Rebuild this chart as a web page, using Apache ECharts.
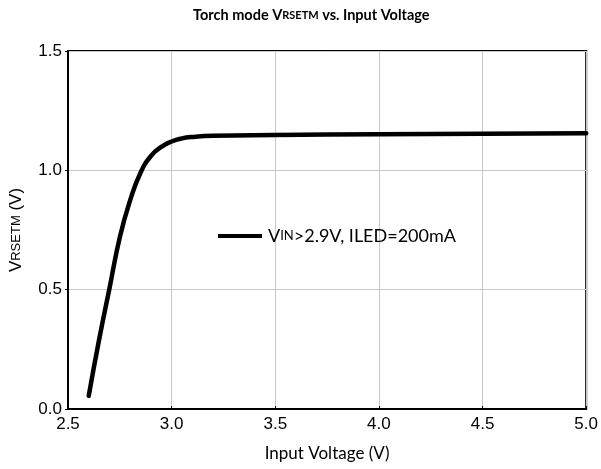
<!DOCTYPE html>
<html><head><meta charset="utf-8">
<script src="https://cdn.jsdelivr.net/npm/echarts@6/dist/echarts.min.js"></script>
<style>html,body{margin:0;padding:0;background:#fff}#c{width:601px;height:469px}</style>
</head><body><div id="c"></div>
<script>
const inputVoltage = [2.60, 2.65, 2.70, 2.75, 2.80, 2.85, 2.90, 2.95, 3.00, 3.05, 3.10, 3.20, 3.50, 4.00, 4.50, 5.00];
const vrsetm =       [0.055, 0.29, 0.505, 0.72, 0.875, 0.99, 1.060, 1.098, 1.121, 1.134, 1.140, 1.145, 1.148, 1.151, 1.153, 1.155];
const xTicks = [2.5, 3.0, 3.5, 4.0, 4.5, 5.0];
const yTicks = [0.0, 0.5, 1.0, 1.5];
const seriesName = 'VIN>2.9V, ILED=200mA';

const chart = echarts.init(document.getElementById('c'), null, {renderer: 'canvas'});
const sans = 'Liberation Sans, Arial, sans-serif';
const cal = 'Lato, Open Sans, sans-serif';
chart.setOption({
  animation: false,
  backgroundColor: '#fff',
  title: {
    text: '{a|Torch mode V}{s|RSETM}{a| vs. Input Voltage}',
    left: 193, top: 8, padding: 0,
    textStyle: {
      rich: {
        a: {fontFamily: cal, fontWeight: 'bold', fontSize: 14.5, color: '#000'},
        s: {fontFamily: cal, fontWeight: 'bold', fontSize: 11, color: '#000'}
      }
    }
  },
  grid: {left: 68, right: 13, top: 51, bottom: 60, show: true, borderColor: '#000', borderWidth: 2, containLabel: false},
  legend: {
    show: true,
    left: 218, top: 227, padding: 0,
    itemWidth: 44, itemHeight: 4, itemGap: 4,
    icon: 'rect',
    data: [seriesName],
    formatter: function () { return '{a|V}{s|IN}{a|>2.9V, ILED=200mA}'; },
    textStyle: {
      padding: [0, 0, 0, 1],
      rich: {
        a: {fontFamily: cal, fontSize: 18, color: '#000'},
        s: {fontFamily: cal, fontSize: 13, color: '#000'}
      }
    }
  },
  xAxis: {
    type: 'value', min: 2.5, max: 5.0, interval: 0.5,
    name: 'Input Voltage (V)', nameLocation: 'middle', nameGap: 36,
    nameTextStyle: {fontFamily: cal, fontSize: 17, color: '#000'},
    axisLine: {show: true, lineStyle: {color: '#000', width: 2}},
    axisTick: {show: true, inside: true, length: 3, lineStyle: {color: '#000'}},
    axisLabel: {fontFamily: sans, fontSize: 17, color: '#000', margin: 7,
      formatter: v => xTicks.includes(+v.toFixed(1)) ? v.toFixed(1) : ''},
    splitLine: {show: true, lineStyle: {color: '#c8c8c8', width: 1}}
  },
  yAxis: {
    type: 'value', min: 0, max: 1.5, interval: 0.5,
    name: '{a|V}{s|RSETM}{a| (V)}', nameLocation: 'middle', nameGap: 43,
    nameTextStyle: {rich: {
      a: {fontFamily: sans, fontSize: 17, color: '#000'},
      s: {fontFamily: sans, fontSize: 13, color: '#000'}
    }},
    axisLine: {show: true, lineStyle: {color: '#000', width: 2}},
    axisTick: {show: true, inside: false, length: 3, lineStyle: {color: '#000'}},
    axisLabel: {fontFamily: sans, fontSize: 17, color: '#000', margin: 6,
      formatter: v => yTicks.includes(+v.toFixed(1)) ? v.toFixed(1) : ''},
    splitLine: {show: true, lineStyle: {color: '#c8c8c8', width: 1}}
  },
  series: [{
    name: seriesName, type: 'line', smooth: 0.5, symbol: 'none',
    lineStyle: {color: '#000', width: 4.5, cap: 'round'},
    itemStyle: {color: '#000'},
    data: inputVoltage.map((x, i) => [x, vrsetm[i]])
  }]
});
</script></body></html>
